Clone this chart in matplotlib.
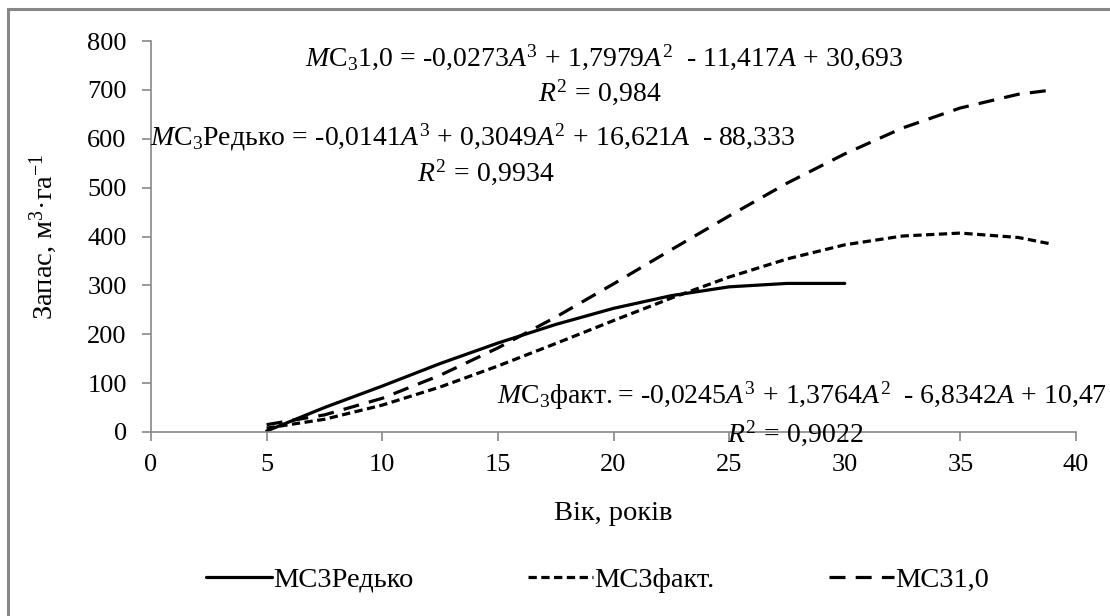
import matplotlib
matplotlib.use("Agg")
import matplotlib.pyplot as plt
from matplotlib.patches import Rectangle

plt.rcParams['font.family'] = ['Liberation Serif', 'DejaVu Serif']
plt.rcParams['mathtext.fontset'] = 'custom'
plt.rcParams['mathtext.rm'] = 'Liberation Serif'
plt.rcParams['mathtext.it'] = 'Liberation Serif:italic'
plt.rcParams['mathtext.bf'] = 'Liberation Serif:bold'

# Stand volume by age for three models
age_redko = [5, 7.5, 10, 12.5, 15, 17.5, 20, 22.5, 25, 27.5, 30]
vol_redko = [2, 50, 94, 140, 182, 220, 253, 279, 297, 304, 304]

age_fact = [5, 7.5, 10, 12.5, 15, 17.5, 20, 22.5, 25, 27.5, 30, 32.5, 35, 37.5, 39]
vol_fact = [8, 26, 55, 92, 135, 181, 228, 274, 317, 354, 383, 401, 407, 398, 384]

age_10 = [5, 7.5, 10, 12.5, 15, 17.5, 20, 22.5, 25, 27.5, 30, 32.5, 35, 37.5, 39]
vol_10 = [15, 35, 69, 116, 172, 235, 303, 373, 442, 509, 569, 622, 663, 691, 700]

series_labels = ['МС3Редько', 'МС3факт.', 'МС31,0']

x_ticks = [0, 5, 10, 15, 20, 25, 30, 35, 40]
y_ticks = [0, 100, 200, 300, 400, 500, 600, 700, 800]

eq_10 = (r"$M\mathrm{С}_3\mathrm{1{,}0}\,=\,\text{-}0{,}0273A^3\,+\,1{,}7979A^2"
         r"\ \ \text{-}\ 11{,}417A\,+\,30{,}693$")
r2_10 = r"$R^2\,=\,0{,}984$"
eq_redko = (r"$M\mathrm{С}_3\mathrm{Редько}\,=\,\text{-}0{,}0141A^3\,+\,0{,}3049A^2"
            r"\,+\,16{,}621A\ \ \text{-}\ 88{,}333$")
r2_redko = r"$R^2\,=\,0{,}9934$"
eq_fact = (r"$M\mathrm{С}_3\mathrm{факт.}\!=\,\text{-}0{,}0245A^3\,+\,1{,}3764A^2"
           r"\ \ \text{-}\ 6{,}8342A\,+\,10{,}47$")
r2_fact = r"$R^2\,=\,0{,}9022$"

W, H = 1110, 616
fig = plt.figure(figsize=(W / 100, H / 100), dpi=100)
ax = fig.add_axes([151 / W, 1 - 432 / H, (1076 - 151) / W, (432 - 41) / H])

fs_tick = 19
fs_lab = 20.5
fs_eq = 20
lw = 2.3
ax.plot(age_redko, vol_redko, color='black', lw=lw, solid_capstyle='round',
        label=series_labels[0])
ax.plot(age_fact, vol_fact, color='black', lw=lw, dashes=(2.6, 1.4),
        label=series_labels[1])
ax.plot(age_10, vol_10, color='black', lw=lw, dashes=(5.0, 3.2),
        label=series_labels[2])

ax.set_xlim(0, 40)
ax.set_ylim(0, 800)
ax.set_xticks(x_ticks)
ax.set_yticks(y_ticks)
ax.tick_params(axis='both', labelsize=fs_tick, colors='#888888', labelcolor='black',
               length=6.5, width=1.2, direction='out')
ax.tick_params(axis='x', pad=9)
ax.tick_params(axis='y', pad=11)
for s in ('top', 'right'):
    ax.spines[s].set_visible(False)
for s in ('left', 'bottom'):
    ax.spines[s].set_color('#888888')
    ax.spines[s].set_linewidth(1.2)

ax.set_xlabel('Вік, років', fontsize=fs_lab, labelpad=18)
ax.set_ylabel('Запас, м$^3$·га$^{-1}$', fontsize=fs_lab, labelpad=20)

def fx(px):
    return px / W

def fy(py):
    return 1 - py / H

fig.text(fx(604), fy(57), eq_10, fontsize=fs_eq, ha='center', va='center')
fig.text(fx(600), fy(92), r2_10, fontsize=fs_eq, ha='center', va='center')
fig.text(fx(150), fy(137), eq_redko, fontsize=fs_eq, ha='left', va='center')
fig.text(fx(486), fy(172), r2_redko, fontsize=fs_eq, ha='center', va='center')
fig.text(fx(1107), fy(396), eq_fact, fontsize=fs_eq, ha='right', va='center')
fig.text(fx(795), fy(433), r2_fact, fontsize=fs_eq, ha='center', va='center')

fig.legend(loc='center', bbox_to_anchor=(fx(598), fy(580)), ncol=3,
           frameon=False, fontsize=fs_lab, handlelength=2.3, handletextpad=0.05,
           columnspacing=4.0)

# outer chart-area frame
fig.patches.append(Rectangle((fx(8), fy(H + 20)), 1.2, (H + 20 - 9) / H,
                             transform=fig.transFigure, fill=False,
                             edgecolor='#888888', linewidth=2.2))

fig.savefig('out.png', dpi=100)
